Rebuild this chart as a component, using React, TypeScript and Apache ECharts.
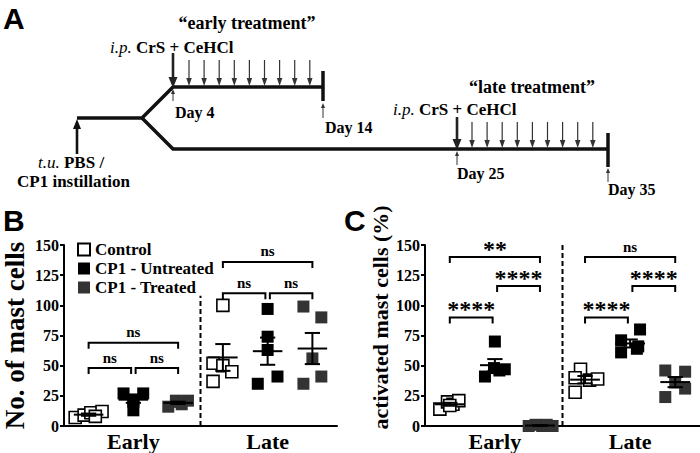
import React, { useEffect, useRef } from 'react';
import * as echarts from 'echarts';

// ---------- data ----------
const groupNames = ['Control', 'CP1 - Untreated', 'CP1 - Treated'];
const phaseLabels = ['Early', 'Late'];
const yTicks = [0, 25, 50, 75, 100, 125, 150];

// Panel B: No. of mast cells (5 animals per group)
const mastControlEarly = [7, 9, 11, 12, 8];
const mastUntreatedEarly = [27, 27, 22, 20, 13];
const mastTreatedEarly = [16, 21, 21, 18, 20];
const mastControlLate = [100, 52, 50, 45, 37];
const mastUntreatedLate = [97, 74, 63, 35, 41];
const mastTreatedLate = [99, 90, 56, 35, 41];

// Panel C: activated mast cells (%)
const actControlEarly = [14, 20, 18, 21, 17];
const actUntreatedEarly = [70, 41, 48, 47, 46];
const actTreatedEarly = [0, 1, 0, 1, 0];
const actControlLate = [47, 40, 28, 38, 39];
const actUntreatedLate = [80, 71, 61, 66, 64];
const actTreatedLate = [46, 24, 45, 31, 36];

// horizontal scatter of the animals inside a group (fraction of group spacing)
const jitterBControlEarly = [-0.3, -0.1, 0.05, 0.3, 0.15];
const jitterBUntreatedEarly = [-0.22, 0.22, 0, 0, 0];
const jitterBTreatedEarly = [-0.22, -0.05, 0.22, 0.08, 0.0];
const jitterBControlLate = [0, -0.22, 0, 0.2, -0.22];
const jitterBUntreatedLate = [0, 0, 0, -0.22, 0.22];
const jitterBTreatedLate = [-0.2, 0.2, 0, -0.2, 0.2];
const jitterCControlEarly = [-0.22, -0.05, 0.07, 0.2, 0];
const jitterCUntreatedEarly = [0, -0.22, -0.02, 0.22, 0.1];
const jitterCTreatedEarly = [-0.25, -0.1, 0.05, 0.15, 0.28];
const jitterCControlLate = [-0.1, -0.22, -0.22, 0.1, 0.28];
const jitterCUntreatedLate = [0.22, -0.2, -0.2, 0.18, 0.15];
const jitterCTreatedLate = [-0.22, -0.22, 0.22, 0.22, 0];

// significance brackets: [fromGroup, toGroup] as group index 0..5, level (y value), label
const bracketFromB = [0, 1, 0, 3, 4, 3];
const bracketToB = [1, 2, 2, 4, 5, 5];
const bracketLevelB = [48, 48, 69, 110, 110, 136];
const bracketLabelB = ['ns', 'ns', 'ns', 'ns', 'ns', 'ns'];
const bracketFromC = [0, 1, 0, 3, 4, 3];
const bracketToC = [1, 2, 2, 4, 5, 5];
const bracketLevelC = [90, 116, 140, 90, 116, 140];
const bracketLabelC = ['****', '****', '**', '****', '****', 'ns'];

// ---------- helpers ----------
const SERIF = 'Liberation Serif';
const SANS = 'Liberation Sans';
const groupX = (g: number) => g + 0.55;

function pts(vals: number[], jit: number[], g: number) {
  return vals.map((v, i) => [groupX(g) + jit[i], v]);
}
function meanSem(vals: number[]) {
  const n = vals.length;
  const m = vals.reduce((a, b) => a + b, 0) / n;
  const sd = Math.sqrt(vals.reduce((a, b) => a + (b - m) * (b - m), 0) / (n - 1));
  return [m, sd / Math.sqrt(n)];
}

const styles = [
  { color: '#ffffff', borderColor: '#000', borderWidth: 1.6 },
  { color: '#000000', borderColor: '#000', borderWidth: 0 },
  { color: '#333333', borderColor: '#333', borderWidth: 0 },
];

function arrow(x: number, yFrom: number, yTo: number, lw: number, hw: number, hl: number, col = '#111') {
  const dir = yTo > yFrom ? 1 : -1;
  const yBase = yTo - dir * hl;
  return [
    { type: 'line', shape: { x1: x, y1: yFrom, x2: x, y2: yBase }, style: { stroke: col, lineWidth: lw } },
    { type: 'polygon', shape: { points: [[x - hw / 2, yBase], [x + hw / 2, yBase], [x, yTo]] }, style: { fill: col } },
  ];
}
function txt(x: number, y: number, text: string, size: number, align = 'left', rich?: any) {
  return {
    type: 'text',
    x,
    y,
    style: {
      text,
      fontSize: size,
      fontWeight: 'bold',
      fontFamily: SERIF,
      fill: '#000',
      textAlign: align,
      align,
      textVerticalAlign: 'middle',
      verticalAlign: 'middle',
      rich,
    },
  };
}

export default function App() {
  const ref = useRef<HTMLDivElement>(null);
  useEffect(() => {
    if (!ref.current) return;
    const chart = echarts.init(ref.current, null, { renderer: 'svg', width: 700, height: 453 });

    const richIp = {
      i: { fontStyle: 'italic', fontWeight: 'normal', fontSize: 17, fontFamily: SERIF },
      b: { fontWeight: 'bold', fontSize: 17, fontFamily: SERIF },
    };

    // panel A diagram
    const diagram: any[] = [];
    diagram.push({
      type: 'polyline',
      shape: { points: [[77, 118], [142, 118], [173, 87], [323, 87]] },
      style: { stroke: '#111', lineWidth: 3.5, fill: null },
    });
    diagram.push({
      type: 'polyline',
      shape: { points: [[142, 118], [173, 149], [608, 149]] },
      style: { stroke: '#111', lineWidth: 3.5, fill: null },
    });
    diagram.push({ type: 'line', shape: { x1: 323, y1: 71, x2: 323, y2: 101 }, style: { stroke: '#111', lineWidth: 3.5 } });
    diagram.push({ type: 'line', shape: { x1: 608, y1: 133, x2: 608, y2: 167 }, style: { stroke: '#111', lineWidth: 3.5 } });
    diagram.push(...arrow(173, 53, 88, 2.6, 9, 11, '#222'));
    diagram.push(...arrow(457, 117, 150, 2.6, 9, 11, '#222'));
    for (let i = 0; i < 9; i++) {
      diagram.push(...arrow(189 + i * 15.1, 60, 86, 1.2, 5.5, 8, '#333'));
      diagram.push(...arrow(472 + i * 15.1, 122, 148, 1.2, 5.5, 8, '#333'));
    }
    diagram.push(...arrow(77, 154, 119, 2.6, 8, 10, '#111'));
    diagram.push(...arrow(173, 101, 89, 1, 4, 5, '#333'));
    diagram.push(...arrow(323, 118, 103, 1, 4, 5, '#333'));
    diagram.push(...arrow(457, 165, 151, 1, 4, 5, '#333'));
    diagram.push(...arrow(608, 182, 168, 1, 4, 5, '#333'));
    diagram.push(txt(247, 23, '\u201cearly treatment\u201d', 18, 'center'));
    diagram.push(txt(110, 47, '{i|i.p.} {b|CrS + CeHCl}', 17, 'left', richIp));
    diagram.push(txt(175, 112, 'Day 4', 16));
    diagram.push(txt(325, 127, 'Day 14', 16));
    diagram.push(txt(38, 162, '{i|t.u.} {b|PBS /}', 17, 'left', richIp));
    diagram.push(txt(17, 181, 'CP1 instillation', 17));
    diagram.push(txt(532, 87, '\u201clate treatment\u201d', 18, 'center'));
    diagram.push(txt(393, 109, '{i|i.p.} {b|CrS + CeHCl}', 17, 'left', richIp));
    diagram.push(txt(457, 173, 'Day 25', 16));
    diagram.push(txt(608, 189, 'Day 35', 16));
    // panel letters
    const letter = (x: number, y: number, t: string) => ({
      type: 'text', x, y,
      style: { text: t, fontSize: 30, fontWeight: 'bold', fontFamily: SANS, fill: '#000', textVerticalAlign: 'top', verticalAlign: 'top' },
    });
    diagram.push(letter(3, 3, 'A'));
    diagram.push(letter(3, 205, 'B'));
    diagram.push(letter(344, 205, 'C'));

    const xAxisBase = (gridIndex: number) => ({
      type: 'value',
      gridIndex,
      min: 0,
      max: 6.1,
      axisLine: { show: true, lineStyle: { color: '#000', width: 2 } },
      axisTick: { show: false },
      splitLine: { show: false },
      axisLabel: {
        customValues: [groupX(1), groupX(4)],
        formatter: (v: number) => (v < 3 ? phaseLabels[0] : phaseLabels[1]),
        fontFamily: SERIF,
        fontWeight: 'bold',
        fontSize: 22,
        color: '#000',
        margin: 4,
      },
    });
    const yAxisBase = (gridIndex: number, name: string, gap: number, size: number, pad: number[]) => ({
      type: 'value',
      gridIndex,
      min: yTicks[0],
      max: yTicks[yTicks.length - 1],
      interval: 25,
      name,
      nameLocation: 'middle',
      nameGap: gap,
      nameTextStyle: { fontFamily: SERIF, fontWeight: 'bold', fontSize: size, color: '#000', padding: pad },
      axisLine: { show: true, lineStyle: { color: '#000', width: 2 } },
      axisTick: { show: true, length: 4, lineStyle: { color: '#000', width: 2 } },
      splitLine: { show: false },
      axisLabel: { fontFamily: SERIF, fontWeight: 'bold', fontSize: 16, color: '#000', margin: 5 },
    });

    const panels = [
      {
        vals: [
          [mastControlEarly, mastControlLate],
          [mastUntreatedEarly, mastUntreatedLate],
          [mastTreatedEarly, mastTreatedLate],
        ],
        jit: [
          [jitterBControlEarly, jitterBControlLate],
          [jitterBUntreatedEarly, jitterBUntreatedLate],
          [jitterBTreatedEarly, jitterBTreatedLate],
        ],
        from: bracketFromB, to: bracketToB, level: bracketLevelB, label: bracketLabelB,
        dashTop: 108,
      },
      {
        vals: [
          [actControlEarly, actControlLate],
          [actUntreatedEarly, actUntreatedLate],
          [actTreatedEarly, actTreatedLate],
        ],
        jit: [
          [jitterCControlEarly, jitterCControlLate],
          [jitterCUntreatedEarly, jitterCUntreatedLate],
          [jitterCTreatedEarly, jitterCTreatedLate],
        ],
        from: bracketFromC, to: bracketToC, level: bracketLevelC, label: bracketLabelC,
        dashTop: 150,
      },
    ];

    const series: any[] = [];
    panels.forEach((p, pi) => {
      // dashed separator
      series.push({
        type: 'line',
        xAxisIndex: pi,
        yAxisIndex: pi,
        data: [[3.05, 0], [3.05, p.dashTop]],
        symbol: 'none',
        lineStyle: { color: '#000', width: 2, type: [5, 3] },
        silent: true,
        z: 1,
      });
      // points
      groupNames.forEach((name, g) => {
        series.push({
          type: 'scatter',
          name,
          xAxisIndex: pi,
          yAxisIndex: pi,
          symbol: 'rect',
          symbolSize: 12,
          clip: false,
          itemStyle: { ...styles[g], opacity: 1 },
          data: [...pts(p.vals[g][0], p.jit[g][0], g), ...pts(p.vals[g][1], p.jit[g][1], g + 3)],
          z: 2,
        });
      });
      // mean +- SEM
      const ms: number[][] = [];
      for (let ph = 0; ph < 2; ph++) {
        for (let g = 0; g < 3; g++) {
          const [m, s] = meanSem(p.vals[g][ph]);
          ms.push([groupX(g + ph * 3), m, s]);
        }
      }
      series.push({
        type: 'custom',
        xAxisIndex: pi,
        yAxisIndex: pi,
        silent: true,
        z: 3,
        encode: { x: 0, y: 1 },
        data: ms,
        renderItem: (params: any, api: any) => {
          const x = api.value(0), m = api.value(1), s = api.value(2);
          const c = api.coord([x, m]);
          const top = api.coord([x, m + s]);
          const bot = api.coord([x, m - s]);
          const half = api.size([0.33, 0])[0];
          const cap = api.size([0.17, 0])[0];
          const st = { stroke: '#000', lineWidth: 2 };
          return {
            type: 'group',
            children: [
              { type: 'line', shape: { x1: c[0] - half, y1: c[1], x2: c[0] + half, y2: c[1] }, style: st },
              { type: 'line', shape: { x1: c[0], y1: top[1], x2: c[0], y2: bot[1] }, style: st },
              { type: 'line', shape: { x1: c[0] - cap, y1: top[1], x2: c[0] + cap, y2: top[1] }, style: st },
              { type: 'line', shape: { x1: c[0] - cap, y1: bot[1], x2: c[0] + cap, y2: bot[1] }, style: st },
            ],
          };
        },
      });
      // brackets
      const bdata = p.from.map((f, i) => {
        const adjacent = p.to[i] - f === 1;
        const leftShort = adjacent && p.from.some((ff, j) => j !== i && p.to[j] === f && p.to[j] - ff === 1);
        const rightShort = adjacent && p.from.some((ff, j) => j !== i && ff === p.to[i] && p.to[j] - ff === 1);
        return [groupX(f) + (leftShort ? 0.05 : 0), groupX(p.to[i]) - (rightShort ? 0.05 : 0), p.level[i]];
      });
      series.push({
        type: 'custom',
        xAxisIndex: pi,
        yAxisIndex: pi,
        silent: true,
        z: 4,
        encode: { x: [0, 1], y: 2 },
        data: bdata,
        renderItem: (params: any, api: any) => {
          const a = api.coord([api.value(0), api.value(2)]);
          const b = api.coord([api.value(1), api.value(2)]);
          const lab = p.label[params.dataIndex];
          const stars = lab.indexOf('*') >= 0;
          return {
            type: 'group',
            children: [
              {
                type: 'polyline',
                shape: { points: [[a[0], a[1] + 6], [a[0], a[1]], [b[0], b[1]], [b[0], b[1] + 6]] },
                style: { stroke: '#000', lineWidth: 2, fill: null },
              },
              {
                type: 'text',
                style: {
                  text: lab,
                  x: (a[0] + b[0]) / 2,
                  y: stars ? a[1] + 4 : a[1] - 3,
                  fontSize: stars ? 24 : 15,
                  fontWeight: 'bold',
                  fontFamily: SERIF,
                  fill: '#000',
                  textAlign: 'center',
                  align: 'center',
                  textVerticalAlign: 'bottom',
                  verticalAlign: 'bottom',
                },
              },
            ],
          };
        },
      });
    });

    chart.setOption({
      animation: false,
      backgroundColor: '#fff',
      textStyle: { fontFamily: SERIF },
      grid: [
        { left: 62, top: 245, width: 275, height: 181 },
        { left: 425, top: 245, width: 275, height: 181 },
      ],
      xAxis: [xAxisBase(0), xAxisBase(1)],
      yAxis: [
        yAxisBase(0, 'No. of mast cells', 36, 27, [0, 0, 0, 0]),
        yAxisBase(1, 'activated mast cells (%)', 34, 22, [0, 0, 0, 36]),
      ],
      legend: {
        data: groupNames,
        orient: 'vertical',
        left: 72,
        top: 236,
        icon: 'rect',
        itemWidth: 12,
        itemHeight: 12,
        itemGap: 2,
        selectedMode: false,
        textStyle: { fontFamily: SERIF, fontWeight: 'bold', fontSize: 17, color: '#000', lineHeight: 17 },
      },
      graphic: diagram,
      series,
    });
    return () => chart.dispose();
  }, []);
  return <div ref={ref} style={{ width: 700, height: 453, position: 'absolute', left: 0, top: 0 }} />;
}
